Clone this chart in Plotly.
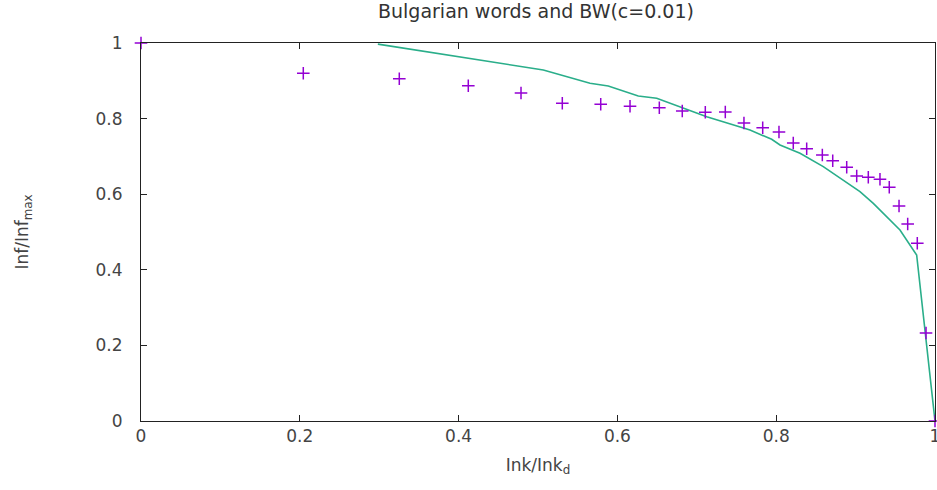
import plotly.graph_objects as go

# Measured points (Bulgarian words)
words_x = [0.0, 0.2044, 0.3253, 0.4122, 0.4786, 0.5306, 0.5790, 0.6159, 0.6528, 0.6817,
           0.7107, 0.7359, 0.7594, 0.7830, 0.8035, 0.8215, 0.8384, 0.8581, 0.8712, 0.8888,
           0.9014, 0.9160, 0.9307, 0.9424, 0.9547, 0.9656, 0.9777, 0.9887, 1.0]
words_y = [1.0, 0.9198, 0.9053, 0.8870, 0.8677, 0.8405, 0.8378, 0.8325, 0.8288, 0.8201,
           0.8167, 0.8175, 0.7884, 0.7759, 0.7646, 0.7354, 0.7204, 0.7037, 0.6886, 0.6712,
           0.6481, 0.6447, 0.6394, 0.6183, 0.5688, 0.5212, 0.4701, 0.2328, 0.0]

# BW(c=0.01) curve
bw_x = [0.2983, 0.5067, 0.5655, 0.5885, 0.6263, 0.6495, 0.7125, 0.7670, 0.7943, 0.8048,
        0.8300, 0.8593, 0.9055, 0.9223, 0.9559, 0.9769, 1.0]
bw_y = [0.997, 0.9286, 0.8934, 0.8862, 0.8598, 0.8537, 0.8050, 0.7698, 0.7452, 0.7302,
        0.7082, 0.6728, 0.6066, 0.5759, 0.5053, 0.4392, 0.0]

tick_vals = [0, 0.2, 0.4, 0.6, 0.8, 1]
tick_text = ["0", "0.2", "0.4", "0.6", "0.8", "1"]

FONT = "DejaVu Sans"

fig = go.Figure()
fig.add_trace(go.Scatter(
    x=bw_x, y=bw_y, mode="lines",
    line=dict(color="#2aae8a", width=1.6),
    cliponaxis=False, showlegend=False))
fig.add_trace(go.Scatter(
    x=words_x, y=words_y, mode="markers",
    marker=dict(symbol="cross-thin", size=9, line=dict(color="#9400d3", width=1.5)),
    cliponaxis=False, showlegend=False))

axis_common = dict(
    range=[0, 1], tickvals=tick_vals, ticktext=tick_text,
    showgrid=False, zeroline=False, automargin=False,
    showline=True, linecolor="#222", linewidth=1.2, mirror="ticks",
    ticks="inside", ticklen=6, tickwidth=1.2, tickcolor="#222",
    ticklabeloverflow="allow",
    tickfont=dict(family=FONT, size=17, color="#444"),
)

fig.update_layout(
    width=937, height=490,
    margin=dict(l=141, r=2, t=43, b=69),
    paper_bgcolor="white", plot_bgcolor="white",
    title=dict(text="Bulgarian words and BW(c=0.01)", x=0.572, xanchor="center",
               y=1 - 11 / 490, yref="container", yanchor="middle",
               font=dict(family=FONT, size=19, color="#333")),
    xaxis=dict(**axis_common, ticklabelstandoff=-1,
               title=dict(text="Ink/Ink<sub>d</sub>", standoff=14,
                          font=dict(family=FONT, size=17, color="#444"))),
    yaxis=dict(**axis_common, ticklabelstandoff=14,
               title=dict(text="Inf/Inf<sub>max</sub>", standoff=62,
                          font=dict(family=FONT, size=17, color="#444"))),
)

fig.write_html(
    "out.html",
    config={"displayModeBar": False},
    post_script="document.body.style.margin='0';document.body.style.overflow='hidden';",
)
